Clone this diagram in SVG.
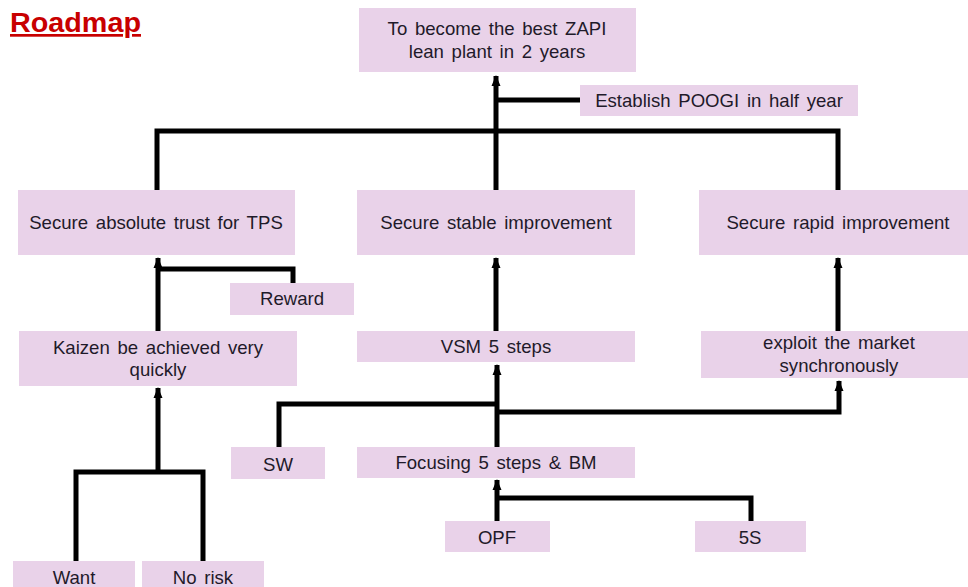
<svg xmlns="http://www.w3.org/2000/svg" width="968" height="587" viewBox="0 0 968 587">
<style>
.box{fill:#E9D2E9;}
.t{font-family:"Liberation Sans",Arial,sans-serif;font-size:18.6px;word-spacing:2.5px;fill:#1f1a2a;text-anchor:middle;}
.c{fill:none;stroke:#000;stroke-width:5;stroke-linejoin:miter;}
.title{font-family:"Liberation Sans",Arial,sans-serif;font-size:27px;font-weight:bold;fill:#C80000;text-decoration:underline;}
</style>
<defs>
<marker id="ah" markerUnits="userSpaceOnUse" markerWidth="12" markerHeight="12" refX="10" refY="6" orient="auto">
<path d="M0,1.5 L11,6 L0,10.5 z" fill="#000"/>
</marker>
</defs>
<rect width="968" height="587" fill="#fff"/>
<text class="title" x="10" y="32" textLength="131" lengthAdjust="spacingAndGlyphs">Roadmap</text>

<g id="connectors">
<path class="c" d="M496,190 V76" marker-end="url(#ah)"/>
<path class="c" d="M157,190 V131 H838 V190"/>
<path class="c" d="M580,100 H496"/>
<path class="c" d="M293,283 V269 H158"/>
<path class="c" d="M158,331 V258" marker-end="url(#ah)"/>
<path class="c" d="M496,331 V258" marker-end="url(#ah)"/>
<path class="c" d="M838,331 V258" marker-end="url(#ah)"/>
<path class="c" d="M497,447 V365" marker-end="url(#ah)"/>
<path class="c" d="M279,448 V404 H497"/>
<path class="c" d="M497,412 H839 V381" marker-end="url(#ah)"/>
<path class="c" d="M497,521 V480" marker-end="url(#ah)"/>
<path class="c" d="M751,521 V498 H497"/>
<path class="c" d="M158,472 V388" marker-end="url(#ah)"/>
<path class="c" d="M76,561 V472 H203 V561"/>
</g>

<g id="n-goal"><rect class="box" x="359" y="8" width="277" height="64"/><text class="t" x="497" y="35">To become the best ZAPI</text><text class="t" x="497" y="58">lean plant in 2 years</text></g>
<g id="n-poogi"><rect class="box" x="580" y="85" width="278" height="31"/><text class="t" x="719" y="107">Establish POOGI in half year</text></g>
<g id="n-trust"><rect class="box" x="18" y="190" width="277" height="65"/><text class="t" x="156" y="229">Secure absolute trust for TPS</text></g>
<g id="n-stable"><rect class="box" x="357" y="190" width="278" height="65"/><text class="t" x="496" y="229">Secure stable improvement</text></g>
<g id="n-rapid"><rect class="box" x="699" y="190" width="278" height="65"/><text class="t" x="838" y="229">Secure rapid improvement</text></g>
<g id="n-reward"><rect class="box" x="230" y="283" width="124" height="32"/><text class="t" x="292" y="305">Reward</text></g>
<g id="n-kaizen"><rect class="box" x="19" y="331" width="278" height="55"/><text class="t" x="158" y="354">Kaizen be achieved very</text><text class="t" x="158" y="376">quickly</text></g>
<g id="n-vsm"><rect class="box" x="357" y="331" width="278" height="31"/><text class="t" x="496" y="353">VSM 5 steps</text></g>
<g id="n-exploit"><rect class="box" x="701" y="331" width="277" height="47"/><text class="t" x="839" y="349">exploit the market</text><text class="t" x="839" y="372">synchronously</text></g>
<g id="n-sw"><rect class="box" x="231" y="447" width="94" height="32"/><text class="t" x="278" y="471">SW</text></g>
<g id="n-focus"><rect class="box" x="357" y="447" width="278" height="31"/><text class="t" x="496" y="469">Focusing 5 steps &amp; BM</text></g>
<g id="n-opf"><rect class="box" x="445" y="521" width="105" height="31"/><text class="t" x="497" y="544">OPF</text></g>
<g id="n-5s"><rect class="box" x="695" y="521" width="111" height="31"/><text class="t" x="750" y="544">5S</text></g>
<g id="n-want"><rect class="box" x="13" y="561" width="122" height="30"/><text class="t" x="74" y="584">Want</text></g>
<g id="n-norisk"><rect class="box" x="142" y="561" width="122" height="30"/><text class="t" x="203" y="584">No risk</text></g>
</svg>
